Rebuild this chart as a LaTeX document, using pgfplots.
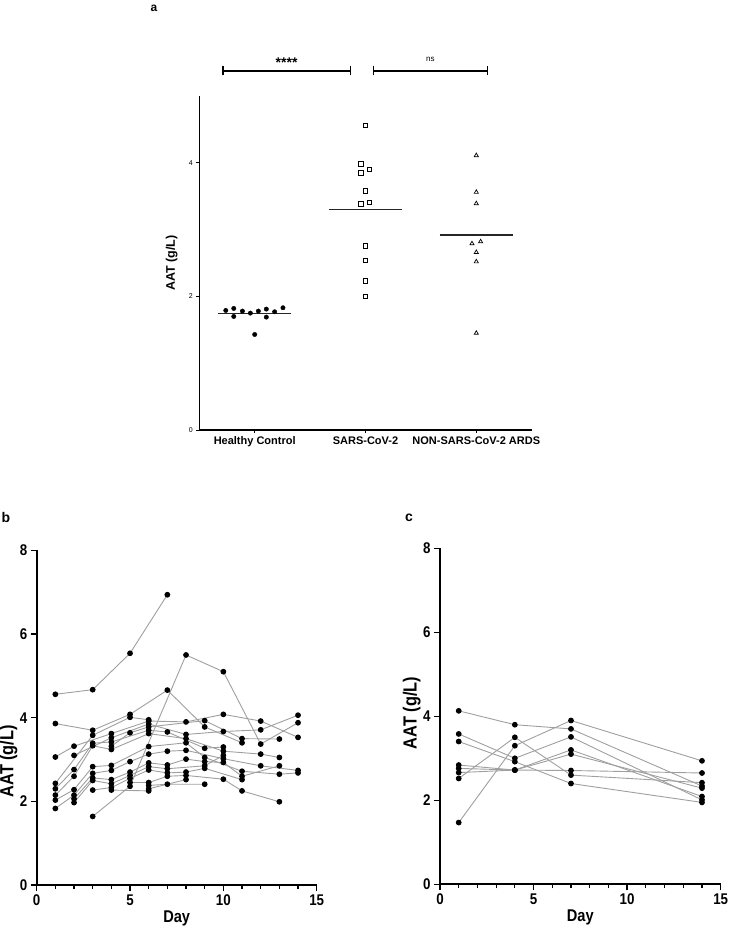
\documentclass[border=0pt]{standalone}
\usepackage{pgfplots}
\pgfplotsset{compat=1.18}
\usepackage{fontspec}
\setmainfont{Liberation Sans}
\newfontfamily\narrowfont[FakeStretch=0.86]{Liberation Sans}
\begin{document}
\begin{tikzpicture}[x=1pt,y=1pt]
\useasboundingbox (0pt,0pt) rectangle (729pt,-930pt);
\pgfplotsset{
  ln/.style={color=gray!75, line width=0.9pt, mark=*, mark size=2.4pt, mark options={draw=black, fill=black, solid}},
  panelbc/.style={
    scale only axis,
    xmin=0, xmax=15, ymin=0, ymax=8,
    axis lines*=left,
    axis line style={line width=1.8pt, -},
    xtick={0,5,10,15},
    minor xtick={1,2,3,4,6,7,8,9,11,12,13,14},
    ytick={0,2,4,6,8},
    tick align=outside,
    major tick length=6pt, minor tick length=4pt,
    tick style={black, line width=1.5pt},
    minor tick style={black, line width=1.2pt},
    /pgf/number format/assume math mode=true,
    tick label style={font=\narrowfont\bfseries\fontsize{15.5}{15.5}\selectfont},
    xlabel={Day}, ylabel={AAT (g/L)},
    xlabel style={font=\narrowfont\bfseries\fontsize{17}{17}\selectfont, at={(axis description cs:0.5,-0.0985)}, anchor=center},
    ylabel style={font=\narrowfont\bfseries\fontsize{19}{19}\selectfont},
    clip=false,
  }
}
% ---------------- panel a ----------------
\begin{axis}[
  at={(199.3pt,-430pt)}, anchor=south west,
  scale only axis, width=332.4pt, height=334pt,
  xmin=-0.5, xmax=2.5, ymin=0, ymax=5,
  axis lines*=left,
  axis line style={line width=1.2pt, -},
  xtick={0,1,2},
  xticklabels={Healthy Control, SARS-CoV-2, NON-SARS-CoV-2 ARDS},
  ytick={0,2,4},
  tick align=outside, major tick length=3pt,
  tick style={black, line width=1pt},
  /pgf/number format/assume math mode=true,
  xticklabel style={font=\bfseries\fontsize{11}{11}\selectfont},
  yticklabel style={font=\fontsize{7}{7}\selectfont},
  ylabel={AAT (g/L)},
  ylabel style={font=\bfseries\fontsize{12.5}{12.5}\selectfont, at={(axis description cs:-0.083,0.5)}, anchor=center},
  clip=false,
]
\addplot[only marks, mark=*, mark size=2.2pt, black] coordinates {
  (-0.261,1.79) (-0.189,1.82) (-0.189,1.70) (-0.111,1.78) (-0.039,1.75)
  (0.033,1.78) (0.105,1.81) (0.105,1.69) (0.180,1.77) (0.255,1.83) (0.0,1.43)};
\addplot[only marks, mark=square, mark size=2.3pt, black, line width=0.7pt] coordinates {
  (1,4.56) (0.958,3.98) (0.958,3.85) (1.036,3.90) (1,3.58) (0.958,3.39)
  (1.036,3.41) (1,2.76) (1,2.54) (1,2.23) (1,2.00)};
\addplot[only marks, mark=triangle, mark size=2.4pt, black, line width=0.7pt] coordinates {
  (2,4.11) (2,3.56) (2,3.39) (1.961,2.79) (2.039,2.82) (2,2.66) (2,2.52) (2,1.45)};
% means
\addplot[black!85, line width=1.1pt] coordinates {(-0.33,1.74) (0.33,1.74)};
\addplot[black!85, line width=1.1pt] coordinates {(0.67,3.30) (1.33,3.30)};
\addplot[black!85, line width=1.1pt] coordinates {(1.67,2.92) (2.33,2.92)};
% significance bars
\draw[line width=1.8pt] (axis cs:-0.286,5.38) -- (axis cs:0.862,5.38);
\draw[line width=1.3pt] (axis cs:-0.286,5.31) -- (axis cs:-0.286,5.45);
\draw[line width=1.3pt] (axis cs:0.862,5.31) -- (axis cs:0.862,5.45);
\draw[line width=1.8pt] (axis cs:1.072,5.38) -- (axis cs:2.10,5.38);
\draw[line width=1.3pt] (axis cs:1.072,5.31) -- (axis cs:1.072,5.45);
\draw[line width=1.3pt] (axis cs:2.10,5.31) -- (axis cs:2.10,5.45);
\node[font=\bfseries\fontsize{14}{14}\selectfont] at (axis cs:0.288,5.50) {****};
\node[font=\fontsize{8}{8}\selectfont] at (axis cs:1.586,5.55) {ns};
\end{axis}
\node[font=\bfseries\fontsize{12}{12}\selectfont] at (154pt,-8pt) {a};
% ---------------- panel b ----------------
\begin{axis}[panelbc,
  at={(36.7pt,-885pt)}, anchor=south west, width=280pt, height=334.6pt,
  ylabel style={at={(axis description cs:-0.101,0.37)}, anchor=center},
]
\addplot[ln] coordinates {(1,4.56)(3,4.67)(5,5.54)(7,6.94)};
\addplot[ln] coordinates {(3,1.64)(5,2.36)(8,5.50)(10,5.10)(12,3.37)(14,3.88)};
\addplot[ln] coordinates {(1,3.86)(3,3.70)(5,4.08)(7,4.66)(9,3.78)(11,3.40)};
\addplot[ln] coordinates {(1,3.06)(2,3.32)(4,3.62)(6,3.92)(8,3.90)(10,4.08)(12,3.92)(14,3.53)};
\addplot[ln] coordinates {(2,3.10)(4,3.52)(6,3.85)(8,3.60)(10,3.67)(12,3.71)(14,4.06)};
\addplot[ln] coordinates {(1,2.43)(3,3.58)(5,4.01)(6,3.95)};
\addplot[ln] coordinates {(1,2.30)(2,2.76)(3,3.39)(4,3.42)(6,3.70)(7,3.66)(9,3.27)(10,3.30)};
\addplot[ln] coordinates {(1,2.15)(2,2.60)(3,3.33)(4,3.24)(6,3.62)(8,3.50)(10,3.20)(12,3.13)(13,3.05)};
\addplot[ln] coordinates {(1,2.03)(2,2.28)(3,2.83)(4,2.86)(6,3.31)(8,3.40)(9,3.05)(11,2.72)(13,2.65)(14,2.68)};
\addplot[ln] coordinates {(1,1.83)(2,2.15)(3,2.67)(4,2.74)(5,2.95)(6,3.13)(7,3.20)(8,3.22)(10,3.02)(12,2.85)(14,2.74)};
\addplot[ln] coordinates {(2,2.06)(3,2.56)(4,2.52)(5,2.70)(6,2.92)(7,2.87)(8,3.01)(9,2.95)(10,2.93)(11,2.60)(13,2.85)};
\addplot[ln] coordinates {(2,1.97)(3,2.50)(4,2.42)(5,2.62)(6,2.83)(7,2.78)(9,2.85)(10,3.10)};
\addplot[ln] coordinates {(3,2.27)(4,2.33)(5,2.55)(6,2.75)(7,2.68)(8,2.70)(9,2.79)(11,2.52)};
\addplot[ln] coordinates {(5,2.45)(6,2.45)(7,2.60)(8,2.62)(10,2.53)(11,2.25)(13,1.99)};
\addplot[ln] coordinates {(4,3.32)(5,3.64)(6,3.78)(9,3.93)(11,3.50)(13,3.49)};
\addplot[ln] coordinates {(6,2.38)(7,2.41)(9,2.41)};
\addplot[ln] coordinates {(6,2.30)(8,2.52)};
\addplot[ln] coordinates {(4,2.27)(6,2.25)};
\end{axis}
\node[font=\bfseries\fontsize{14}{14}\selectfont] at (6pt,-517pt) {b};
% ---------------- panel c ----------------
\begin{axis}[panelbc,
  at={(440pt,-884.3pt)}, anchor=south west, width=280.7pt, height=336pt,
  ylabel style={at={(axis description cs:-0.101,0.51)}, anchor=center},
]
\addplot[ln] coordinates {(1,4.13)(4,3.80)(7,3.70)(14,2.34)};
\addplot[ln] coordinates {(1,3.58)(4,3.00)(7,3.51)(14,2.01)};
\addplot[ln] coordinates {(1,3.40)(4,2.92)(7,2.40)(14,1.95)};
\addplot[ln] coordinates {(1,2.84)(4,2.72)(7,3.20)(14,2.09)};
\addplot[ln] coordinates {(1,2.76)(4,2.72)(7,2.71)(14,2.65)};
\addplot[ln] coordinates {(1,2.66)(4,2.72)(7,3.10)(14,2.29)};
\addplot[ln] coordinates {(1,2.52)(4,3.50)(7,2.60)(14,2.42)};
\addplot[ln] coordinates {(1,1.47)(4,3.30)(7,3.90)(14,2.94)};
\end{axis}
\node[font=\bfseries\fontsize{14}{14}\selectfont] at (409pt,-518pt) {c};
\end{tikzpicture}
\end{document}
